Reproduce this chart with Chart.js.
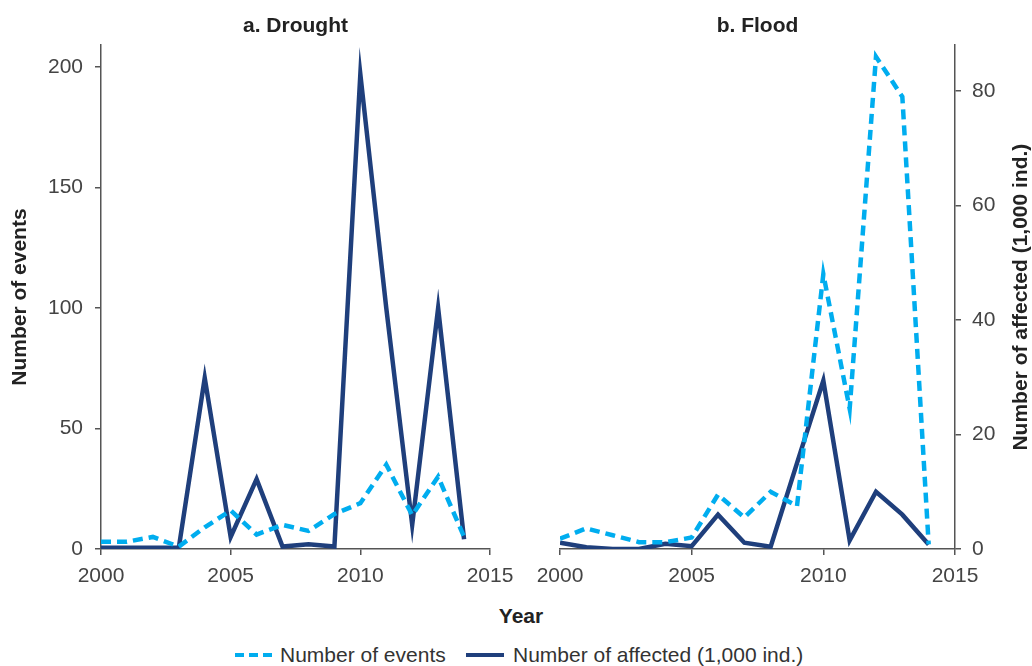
<!DOCTYPE html>
<html>
<head>
<meta charset="utf-8">
<script src="https://cdn.jsdelivr.net/npm/chart.js@4.4.1/dist/chart.umd.min.js"></script>
<style>
  html, body { margin: 0; padding: 0; background: #ffffff; }
  body { width: 1032px; height: 666px; position: relative; overflow: hidden;
         font-family: "Liberation Sans", Arial, sans-serif; }
  canvas { position: absolute; top: 0; }
  #drought { left: 0; }
  #flood { left: 516px; }
  .txt { position: absolute; white-space: nowrap; line-height: 1.117; }
  #xTitle { left: 421px; width: 200px; top: 604px; text-align: center;
            font-size: 21px; font-weight: bold; color: #222; }
  .legText { top: 643px; font-size: 21px; color: #333; }
  .legLine { position: absolute; top: 645px; }
</style>
</head>
<body>
<canvas id="drought" width="516" height="600"></canvas>
<canvas id="flood" width="516" height="600"></canvas>

<div id="xTitle" class="txt">Year</div>
<svg class="legLine" style="left:233px" width="44" height="20">
  <line x1="2" y1="10" x2="42" y2="10" stroke="#00adef" stroke-width="4" stroke-dasharray="9 5"/>
</svg>
<div class="txt legText" style="left:280px">Number of events</div>
<svg class="legLine" style="left:464px" width="44" height="20">
  <line x1="2" y1="10" x2="40" y2="10" stroke="#1f3f7c" stroke-width="4"/>
</svg>
<div class="txt legText" style="left:513px">Number of affected (1,000 ind.)</div>

<script>
// Annual series, 2000-2014
const years = [2000, 2001, 2002, 2003, 2004, 2005, 2006, 2007, 2008, 2009, 2010, 2011, 2012, 2013, 2014];

const droughtEvents   = [3, 3, 5, 1, 9, 16, 6, 10, 7.5, 14.5, 19, 35, 14, 30, 5];
const droughtAffected = [0.5, 0.5, 0.5, 0.5, 71, 5, 29, 1, 2, 1, 197, 100, 10, 100, 4];

const floodEvents   = [1.8, 3.6, 2.4, 1.2, 1.2, 2, 9.5, 5.5, 10, 7.5, 48, 24.5, 86, 79, 0.8];
const floodAffected = [1.1, 0.3, 0, 0, 0.9, 0.5, 6, 1.1, 0.4, 15, 29.4, 1.5, 10, 6, 0.8];

// Axis ticks
const yearTicks    = [2000, 2005, 2010, 2015];
const droughtTicks = [0, 50, 100, 150, 200];
const floodTicks   = [0, 20, 40, 60, 80];

const EVENTS_COLOR   = '#00adef';
const AFFECTED_COLOR = '#1f3f7c';
const AXIS_COLOR     = '#555555';
const TEXT_COLOR     = '#222222';
const TICK_COLOR     = '#444444';
const FONT = '"Liberation Sans", Arial, sans-serif';

Chart.defaults.font.family = FONT;

const toPoints = (values) => values.map((v, i) => ({ x: years[i], y: v }));

function seriesFor(events, affected) {
  return [
    {
      label: 'Number of events',
      data: toPoints(events),
      borderColor: EVENTS_COLOR,
      borderWidth: 4.5,
      borderDash: [10, 6],
      borderCapStyle: 'butt',
      pointRadius: 0,
      tension: 0
    },
    {
      label: 'Number of affected (1,000 ind.)',
      data: toPoints(affected),
      borderColor: AFFECTED_COLOR,
      borderWidth: 4.5,
      borderCapStyle: 'butt',
      pointRadius: 0,
      tension: 0
    }
  ];
}

// Pointed joins at sharp peaks
const sharpJoins = {
  id: 'sharpJoins',
  beforeDatasetsDraw(chart) { chart.ctx.miterLimit = 40; }
};

// Right-hand axis title reading bottom-to-top
const sideTitle = {
  id: 'sideTitle',
  afterDraw(chart, args, opts) {
    if (!opts || !opts.text) return;
    const { ctx, chartArea } = chart;
    ctx.save();
    ctx.translate(opts.x, (chartArea.top + chartArea.bottom) / 2);
    ctx.rotate(-Math.PI / 2);
    ctx.font = 'bold 21px ' + FONT;
    ctx.fillStyle = TEXT_COLOR;
    ctx.textAlign = 'center';
    ctx.textBaseline = 'middle';
    ctx.fillText(opts.text, 0, 0);
    ctx.restore();
  }
};

function xScale() {
  return {
    type: 'linear',
    min: 2000,
    max: 2015,
    afterBuildTicks: (s) => { s.ticks = yearTicks.map(v => ({ value: v })); },
    afterFit: (s) => { s.height = 51; s.paddingLeft = 0; s.paddingRight = 0; },
    border: { display: true, color: AXIS_COLOR, width: 1.5 },
    grid: { drawOnChartArea: false, drawTicks: true, tickLength: 6, color: AXIS_COLOR, lineWidth: 1.5 },
    ticks: { color: TICK_COLOR, font: { size: 21 }, padding: 9, maxRotation: 0,
             callback: (v) => String(v) }
  };
}

function yScale(position, max, tickList, width, pad) {
  return {
    type: 'linear',
    position: position,
    min: 0,
    max: max,
    afterBuildTicks: (s) => { s.ticks = tickList.map(v => ({ value: v })); },
    afterFit: (s) => { s.width = width; s.paddingTop = 0; s.paddingBottom = 0; },
    border: { display: true, color: AXIS_COLOR, width: 1.5 },
    grid: { drawOnChartArea: false, drawTicks: true, tickLength: 6, color: AXIS_COLOR, lineWidth: 1.5 },
    ticks: { color: TICK_COLOR, font: { size: 21 }, padding: pad, callback: (v) => String(v) }
  };
}

function panelTitle(text) {
  return {
    display: true,
    text: text,
    fullSize: false,
    color: TEXT_COLOR,
    font: { size: 21, weight: 'bold' },
    padding: { top: 14, bottom: 6 }
  };
}

// a. Drought
const droughtY = yScale('left', 209, droughtTicks, 101, 12);
droughtY.title = { display: true, text: 'Number of events', color: TEXT_COLOR,
                   font: { size: 21, weight: 'bold' }, padding: { top: 8, bottom: 0 } };

new Chart(document.getElementById('drought'), {
  type: 'line',
  data: { datasets: seriesFor(droughtEvents, droughtAffected) },
  options: {
    responsive: false,
    animation: false,
    devicePixelRatio: 1,
    layout: { padding: { left: 0, right: 26, top: 0, bottom: 0 } },
    plugins: {
      legend: { display: false },
      tooltip: { enabled: false },
      title: panelTitle('a. Drought')
    },
    scales: { x: xScale(), y: droughtY }
  },
  plugins: [sharpJoins]
});

// b. Flood
new Chart(document.getElementById('flood'), {
  type: 'line',
  data: { datasets: seriesFor(floodEvents, floodAffected) },
  options: {
    responsive: false,
    animation: false,
    devicePixelRatio: 1,
    layout: { padding: { left: 44, right: 0, top: 0, bottom: 0 } },
    plugins: {
      legend: { display: false },
      tooltip: { enabled: false },
      title: panelTitle('b. Flood'),
      sideTitle: { text: 'Number of affected (1,000 ind.)', x: 505 }
    },
    scales: { x: xScale(), y: yScale('right', 88, floodTicks, 77, 11) }
  },
  plugins: [sharpJoins, sideTitle]
});
</script>
</body>
</html>
